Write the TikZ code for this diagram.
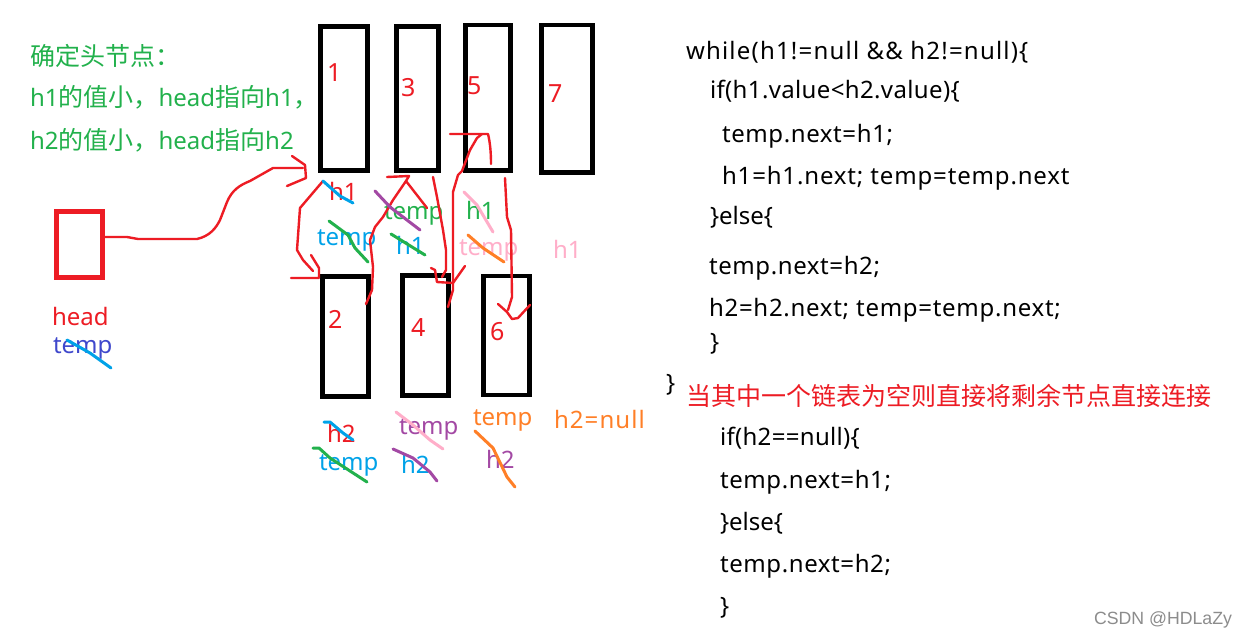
\documentclass[tikz,border=0pt]{standalone}
\usepackage{fontspec}
\setmainfont{Noto Sans}
\newfontfamily\cjk[Scale=1.042]{Noto Sans CJK SC}
\newfontfamily\wmfont{Liberation Sans}
\newcommand{\ls}[2]{{\addfontfeatures{LetterSpace=#1}#2}}
\definecolor{pred}{HTML}{ED1C24}
\definecolor{pgreen}{HTML}{22B14C}
\definecolor{pblue}{HTML}{00A2E8}
\definecolor{ppurple}{HTML}{A349A4}
\definecolor{ppink}{HTML}{FFAEC9}
\definecolor{porange}{HTML}{FF7F27}
\definecolor{pindigo}{HTML}{3F48CC}
\tikzset{
  lbl/.style={anchor=base west,inner sep=0pt,outer sep=0pt,font=\fontsize{24}{24}\selectfont},
  num/.style={lbl,text=pred,font=\fontsize{25}{25}\selectfont},
  code/.style={lbl,text=black},
  listbox/.style={draw=black,line width=4.7pt,inner sep=0pt,outer sep=0pt,anchor=north west},
  ink/.style={draw=pred,line width=2.4pt,line join=round,line cap=round},
  strike/.style={line width=3pt,line join=round,line cap=round},
}
\begin{document}
\begin{tikzpicture}[x=1pt,y=-1pt]
\useasboundingbox[fill=white] (0,0) rectangle (1247,638);
% list boxes
\node[listbox,minimum width=47pt,minimum height=144pt] (b1) at (320.7,26.3) {};
\node[listbox,minimum width=42.4pt,minimum height=144pt] (b3) at (396.3,26.3) {};
\node[listbox,minimum width=44.6pt,minimum height=145.3pt] (b5) at (465.7,25) {};
\node[listbox,minimum width=51.4pt,minimum height=147.7pt] (b7) at (541.3,25) {};
\node[listbox,minimum width=46pt,minimum height=120pt] (b2) at (322.5,276.5) {};
\node[listbox,minimum width=46pt,minimum height=120pt] (b4) at (402.5,275.5) {};
\node[listbox,minimum width=46pt,minimum height=119pt] (b6) at (483.5,276) {};
\node[draw=pred,line width=5pt,anchor=north west,inner sep=0pt,outer sep=0pt,minimum width=46pt,minimum height=66pt] (hd) at (56.5,211.5) {};
% box numbers
\node[num] (n1) at (327,81) {1};
\node[num] (n3) at (401,96) {3};
\node[num] (n5) at (467,94) {5};
\node[num] (n7) at (548,102) {7};
\node[num] (n2) at (328,328) {2};
\node[num] (n4) at (411,336) {4};
\node[num] (n6) at (490,340) {6};
% notes
\node[lbl,text=pgreen] (t1) at (30,65) {{\cjk 确定头节点：}};
\node[lbl,text=pgreen] (t2) at (30,106) {h1{\cjk 的值小，}head{\cjk 指向}h1{\cjk ，}};
\node[lbl,text=pgreen] (t3) at (30,149) {h2{\cjk 的值小，}head{\cjk 指向}h2};
\node[lbl,text=pred] (l1) at (52,325) {head};
\node[lbl,text=pindigo] (l2) at (53,353) {temp};
\node[lbl,text=pred] (l3) at (329,200) {h1};
\node[lbl,text=pblue] (l4) at (317,245) {temp};
\node[lbl,text=pgreen] (l5) at (384,219) {temp};
\node[lbl,text=pblue] (l6) at (396,254) {h1};
\node[lbl,text=pgreen] (l7) at (466,219) {h1};
\node[lbl,text=ppink] (l8) at (459,255) {temp};
\node[lbl,text=ppink] (l9) at (553,258) {h1};
\node[lbl,text=pred] (l10) at (327,442) {h2};
\node[lbl,text=pblue] (l11) at (319,470) {temp};
\node[lbl,text=ppurple] (l12) at (399,434) {temp};
\node[lbl,text=pblue] (l13) at (401,473) {h2};
\node[lbl,text=porange] (l14) at (473,425) {temp};
\node[lbl,text=ppurple] (l15) at (486,468) {h2};
\node[lbl,text=porange] (l16) at (554,428) {\ls{4.5}{h2=null}};
% code
\node[code] (c1) at (686,59) {\ls{5}{while(h1!=null \&\& h2!=null)\{}};
\node[code] (c2) at (710,98) {\ls{1.5}{if(h1.value<h2.value)\{}};
\node[code] (c3) at (722,142) {\ls{2.5}{temp.next=h1;}};
\node[code] (c4) at (722,184) {\ls{3.5}{h1=h1.next; temp=temp.next}};
\node[code] (c5) at (710,224) {\}else\{};
\node[code] (c6) at (709,274) {\ls{2.5}{temp.next=h2;}};
\node[code] (c7) at (709,316) {\ls{3}{h2=h2.next; temp=temp.next;}};
\node[code] (c8) at (710,350) {\}};
\node[code] (c9) at (666,391) {\}};
\node[lbl,text=pred] (c10) at (686,405) {{\cjk 当其中一个链表为空则直接将剩余节点直接连接}};
\node[code] (c11) at (720,445) {\ls{1.3}{if(h2==null)\{}};
\node[code] (c12) at (720,488) {\ls{2.5}{temp.next=h1;}};
\node[code] (c13) at (720,530) {\}else\{};
\node[code] (c14) at (720,572) {\ls{2.5}{temp.next=h2;}};
\node[code] (c15) at (720,614) {\}};
\node[lbl,text=black!45,font=\wmfont\fontsize{17.7}{17.7}\selectfont] (wm) at (1094,624) {CSDN @HDLaZy};
% hand-drawn connectors
\draw[ink] (hd.east) ++(0,-7.5) -- (127,237) -- (138,239) -- (197,239) .. controls (210,236) and (216,228) .. (220,220) -- (227,202) .. controls (232,190) and (240,185) .. (250,181) -- (273,168) -- (303,168);
\draw[ink] (292,156) -- (305,165) -- (306,178) -- (287,186);
\draw[ink] (323,181) -- (300,208) -- (297,250) -- (303,260) -- (313,271);
\draw[ink] (311,255) -- (319,268) -- (319,278) -- (291,278);
\draw[ink] (366,304) -- (372,290) -- (373,267) -- (370,240) -- (375,227) -- (383,217) -- (393,200) -- (406,181) -- (427,208);
\draw[ink] (406,181) -- (409,176) -- (387,177);
\draw[ink] (433,177) -- (437,197) -- (443,230) -- (446,250) -- (446,270) -- (442,277);
\draw[ink] (431,268) -- (435,270) -- (437,282) -- (453,283) -- (465,266);
\draw[ink] (448,307) -- (453,290) -- (453,192) -- (458,175) -- (462,171) -- (470,150) -- (477,138) -- (482,134);
\draw[ink] (450,134) -- (488,134) .. controls (490,142) and (491,152) .. (491,164);
\draw[ink] (505,178) -- (507,217) -- (511,230) -- (512,297) -- (508,310);
\draw[ink] (498,304) -- (507,312) -- (512,319) -- (518,318) -- (530,305);
% strikes
\draw[strike,pblue] (323,181) -- (340,196) -- (353,203);
\draw[strike,pgreen] (329,221) -- (348,235) -- (355,248) -- (368,262);
\draw[strike,ppurple] (375,191) -- (390,207) -- (420,230);
\draw[strike,pgreen] (391,234) -- (425,255);
\draw[strike,ppink] (464,192) -- (477,205) -- (493,232);
\draw[strike,porange] (468,235) -- (483,248) -- (504,262);
\draw[strike,pblue] (324,422) -- (330,422) -- (343,433) -- (353,440);
\draw[strike,pgreen] (313,448) -- (319,448) -- (330,458) -- (367,482);
\draw[strike,ppink] (396,412) -- (413,425) -- (430,440) -- (443,449);
\draw[strike,ppurple] (393,449) -- (413,458) -- (430,472) -- (437,481);
\draw[strike,porange] (475,431) -- (493,448) -- (507,477) -- (515,487);
\draw[strike,pblue] (67,340) -- (90,353) -- (111,368);
\end{tikzpicture}
\end{document}
